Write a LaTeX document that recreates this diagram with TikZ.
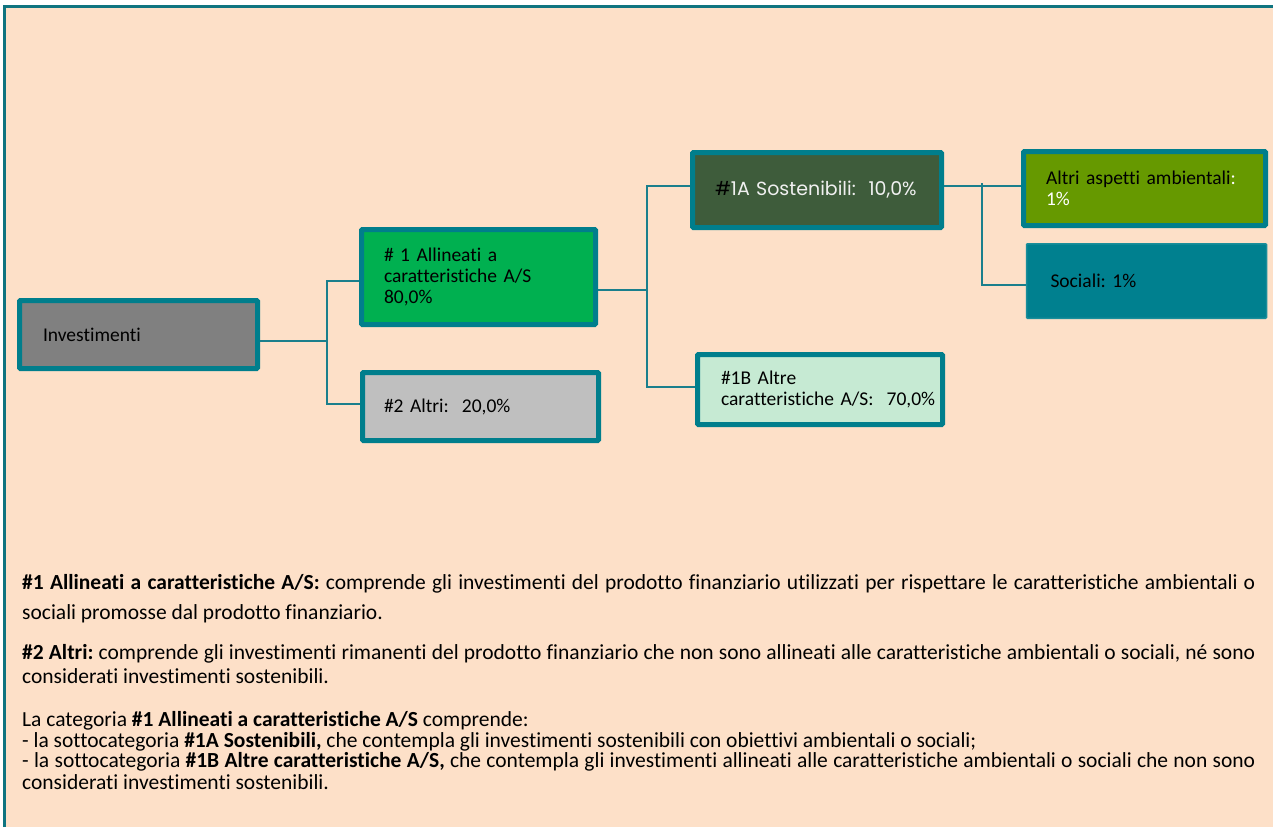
\documentclass[tikz,border=0pt]{standalone}
\usepackage{fontspec}
\setmainfont{Carlito}[Ligatures=NoCommon]
\newfontfamily\gothic{Poppins}
\frenchspacing
\definecolor{bgpeach}{HTML}{FDE0C8}
\definecolor{frameteal}{HTML}{0F7480}
\definecolor{boxteal}{HTML}{007E8C}
\definecolor{linkteal}{HTML}{1A7F8C}
\definecolor{invgrey}{HTML}{808080}
\definecolor{algreen}{HTML}{00B050}
\definecolor{altgrey}{HTML}{BFBFBF}
\definecolor{susgreen}{HTML}{3E5C3B}
\definecolor{othmint}{HTML}{C6EAD3}
\definecolor{envolive}{HTML}{669900}
\definecolor{socteal}{HTML}{00808F}
\definecolor{socedge}{HTML}{1A8E9B}
\tikzset{
  box/.style={rectangle, draw=boxteal, line width=5pt, rounded corners=1pt,
    inner sep=0pt, align=left, font=\fontsize{19.5}{21}\selectfont},
  link/.style={draw=linkteal, line width=1.6pt},
  bodytext/.style={anchor=base west, inner sep=0pt, font=\fontsize{21.5}{24}\selectfont}
}
\begin{document}
\begin{tikzpicture}[x=1pt, y=-1pt]
  \useasboundingbox (0,0) rectangle (1273,827);
  \fill[bgpeach] (4,6) rectangle (1273,827);
  \draw[frameteal, line width=2.5pt] (4.5,827) -- (4.5,6.5) -- (1273,6.5);

  % boxes
  \node[box, fill=invgrey, minimum width=238pt, minimum height=68pt, text width=191pt]
    (inv) at (138.5,334.5) {Investimenti};
  \node[box, fill=algreen, minimum width=234pt, minimum height=95pt, text width=189pt]
    (a1) at (478.5,277) {\#~1 Allineati a\\caratteristiche~A/S\\80,0\%};
  \node[box, fill=altgrey, minimum width=236pt, minimum height=68pt, text width=193pt]
    (a2) at (480.5,406.5) {\#2 Altri:~ 20,0\%};
  \node[box, fill=susgreen, minimum width=249pt, minimum height=75pt, text width=204pt,
    font=\gothic\fontsize{19}{22}\selectfont]
    (s1a) at (817,190) {\mbox{\#\color{white!94!black}1A Sostenibili:~ 10,0\%}};
  \node[box, fill=othmint, minimum width=245pt, minimum height=70pt, text width=198pt]
    (s1b) at (820,389.5) {\#1B Altre\\\mbox{caratteristiche A/S:~ 70,0\%}};
  \node[box, fill=envolive, minimum width=242pt, minimum height=74pt, text width=197pt]
    (amb) at (1144.5,188.5) {\mbox{Altri aspetti ambientali\textcolor{white}{:}}\\\textcolor{white}{1\%}};
  \node[box, draw=socedge, line width=1.5pt, fill=socteal, minimum width=240pt,
    minimum height=74.5pt, text width=192pt]
    (soc) at (1146.5,281) {Sociali: 1\%};

  % connectors
  \coordinate (bus1top) at (327,281);
  \coordinate (bus1mid) at (327,341);
  \coordinate (bus1bot) at (327,404);
  \draw[link] (inv.east |- bus1mid) -- (bus1mid);
  \draw[link] (a1.west |- bus1top) -| (bus1bot) -- (a2.west |- bus1bot);
  \coordinate (bus2top) at (647,186);
  \coordinate (bus2mid) at (647,290);
  \coordinate (bus2bot) at (647,387);
  \draw[link] (a1.east |- bus2mid) -- (bus2mid);
  \draw[link] (s1a.west |- bus2top) -| (bus2bot) -- (s1b.west |- bus2bot);
  \coordinate (bus3top) at (982,183);
  \coordinate (bus3bot) at (982,285);
  \draw[link] (s1a.east |- bus2top) -- (amb.west |- bus2top);
  \draw[link] (bus3top) -- (bus3bot) -- (soc.west |- bus3bot);

  % notes
  \node[bodytext] (l1) at (22,589) {\makebox[1233pt][s]{\textbf{\#1 Allineati a caratteristiche A/S:} comprende gli investimenti del prodotto finanziario utilizzati per rispettare le caratteristiche ambientali o}};
  \node[bodytext] (l2) at (22,619) {sociali promosse dal prodotto finanziario.};
  \node[bodytext] (l3) at (22,659) {\makebox[1233pt][s]{\textbf{\#2 Altri:} comprende gli investimenti rimanenti del prodotto finanziario che non sono allineati alle caratteristiche ambientali o sociali, né sono}};
  \node[bodytext] (l4) at (22,683) {considerati investimenti sostenibili.};
  \node[bodytext] (l5) at (22,726) {La categoria \textbf{\#1 Allineati a caratteristiche A/S} comprende:};
  \node[bodytext] (l6) at (22,747) {- la sottocategoria \textbf{\#1A Sostenibili,} che contempla gli investimenti sostenibili con obiettivi ambientali o sociali;};
  \node[bodytext] (l7) at (22,767) {\makebox[1233pt][s]{- la sottocategoria \textbf{\#1B Altre caratteristiche A/S,} che contempla gli investimenti allineati alle caratteristiche ambientali o sociali che non sono}};
  \node[bodytext] (l8) at (22,789) {considerati investimenti sostenibili.};
\end{tikzpicture}
\end{document}
